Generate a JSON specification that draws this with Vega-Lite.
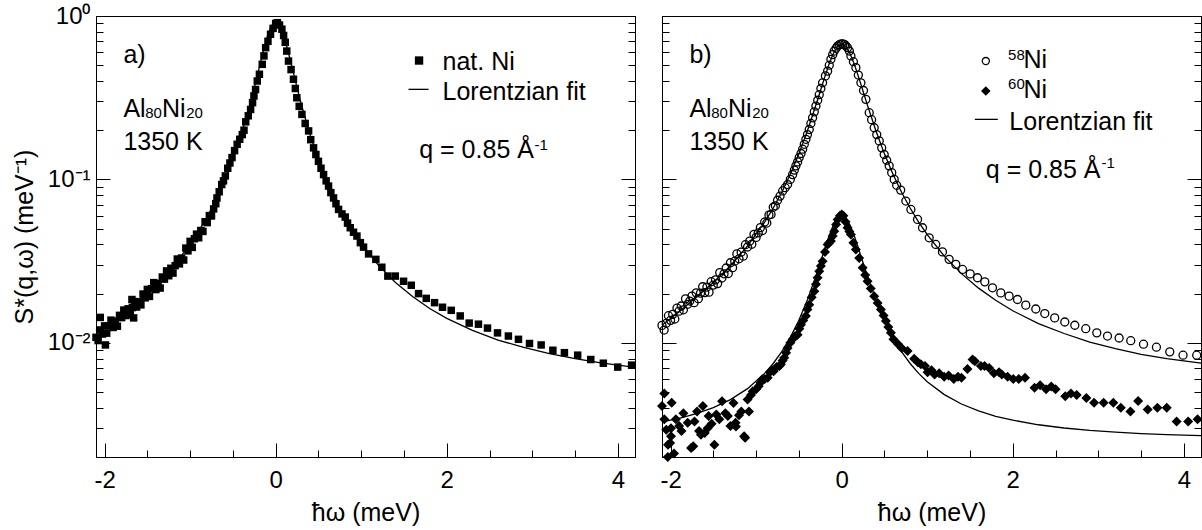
{
  "$schema": "https://vega.github.io/schema/vega-lite/v6.json",
  "padding": {"left": 11, "top": 3, "right": 0, "bottom": 0},
  "spacing": 15,
  "config": {
    "font": "Liberation Sans",
    "view": {"stroke": "black", "strokeWidth": 1},
    "axis": {"domainColor": "black", "domainWidth": 1, "tickColor": "black", "tickWidth": 1, "labelColor": "black", "titleColor": "black", "labelFont": "Liberation Sans", "titleFont": "Liberation Sans", "labelFontSize": 24, "titleFontSize": 25, "titleFontWeight": "normal", "grid": false, "labelFlush": false, "labelOverlap": false},
    "text": {"font": "Liberation Sans", "color": "black"}
  },
  "hconcat": [
    {
      "width": 539, "height": 441,
      "resolve": {"axis": {"x": "independent", "y": "independent"}},
      "layer": [
        {
          "data": {"values": [{"x":-2.1,"y":0.0118},{"x":-1.9,"y":0.0138},{"x":-1.7,"y":0.0165},{"x":-1.5,"y":0.0203},{"x":-1.3,"y":0.0258},{"x":-1.1,"y":0.0342},{"x":-1.0,"y":0.0404},{"x":-0.9,"y":0.0483},{"x":-0.8,"y":0.0591},{"x":-0.7,"y":0.0744},{"x":-0.6,"y":0.097},{"x":-0.5,"y":0.1319},{"x":-0.4,"y":0.189},{"x":-0.3,"y":0.2881},{"x":-0.25,"y":0.364},{"x":-0.2,"y":0.465},{"x":-0.15,"y":0.5938},{"x":-0.1,"y":0.741},{"x":-0.05,"y":0.8709},{"x":0,"y":0.925},{"x":0.05,"y":0.8709},{"x":0.1,"y":0.741},{"x":0.15,"y":0.5938},{"x":0.2,"y":0.465},{"x":0.25,"y":0.364},{"x":0.3,"y":0.2881},{"x":0.4,"y":0.189},{"x":0.5,"y":0.1319},{"x":0.6,"y":0.097},{"x":0.7,"y":0.0744},{"x":0.8,"y":0.0591},{"x":0.9,"y":0.0483},{"x":1.0,"y":0.0404},{"x":1.2,"y":0.0299},{"x":1.4,"y":0.0234},{"x":1.6,"y":0.0192},{"x":1.8,"y":0.0162},{"x":2.0,"y":0.0141},{"x":2.3,"y":0.0119},{"x":2.6,"y":0.0104},{"x":2.9,"y":0.00936},{"x":3.2,"y":0.00858},{"x":3.5,"y":0.008},{"x":3.8,"y":0.00754},{"x":4.2,"y":0.00708}]},
          "mark": {"type": "line", "color": "black", "strokeWidth": 1.3},
          "encoding": {
            "x": {"field": "x", "type": "quantitative", "scale": {"domain": [-2.1, 4.2], "nice": false, "zero": false},
              "axis": {"orient": "bottom", "values": [-2,0,2,4], "tickSize": -14, "labelExpr": "'' + datum.value", "labelPadding": 25, "title": "ħω (meV)", "titlePadding": 8}},
            "y": {"field": "y", "type": "quantitative", "scale": {"type": "log", "domain": [0.002, 1], "nice": false},
              "axis": {"orient": "left", "values": [0.002,0.003,0.004,0.005,0.006,0.007,0.008,0.009,0.01,0.02,0.03,0.04,0.05,0.06,0.07,0.08,0.09,0.1,0.2,0.3,0.4,0.5,0.6,0.7,0.8,0.9,1], "tickSize": {"condition": {"test": "datum.value === 1 || datum.value === 0.1 || datum.value === 0.01", "value": -14}, "value": -7}, "labelExpr": "datum.value === 1 ? '10⁰' : datum.value === 0.1 ? '10⁻¹' : datum.value === 0.01 ? '10⁻²' : ''", "labelPadding": 20, "title": "S*(q,ω) (meV⁻¹)", "titlePadding": 10}}
          }
        },
        {
          "data": {"values": [{"x":-2.1,"y":0.0108},{"x":-2.075,"y":0.01032},{"x":-2.05,"y":0.01198},{"x":-2.025,"y":0.01131},{"x":-2.0,"y":0.01269},{"x":-1.975,"y":0.01145},{"x":-1.95,"y":0.0127},{"x":-1.925,"y":0.01376},{"x":-1.9,"y":0.01241},{"x":-1.875,"y":0.0135},{"x":-1.85,"y":0.01263},{"x":-1.825,"y":0.01472},{"x":-1.8,"y":0.01426},{"x":-1.775,"y":0.01586},{"x":-1.75,"y":0.01468},{"x":-1.725,"y":0.01614},{"x":-1.7,"y":0.01493},{"x":-1.675,"y":0.01643},{"x":-1.65,"y":0.01788},{"x":-1.625,"y":0.01655},{"x":-1.6,"y":0.0178},{"x":-1.575,"y":0.01706},{"x":-1.55,"y":0.01988},{"x":-1.525,"y":0.01884},{"x":-1.5,"y":0.02122},{"x":-1.475,"y":0.01922},{"x":-1.45,"y":0.02144},{"x":-1.425,"y":0.02335},{"x":-1.4,"y":0.02117},{"x":-1.375,"y":0.02305},{"x":-1.35,"y":0.02163},{"x":-1.325,"y":0.02526},{"x":-1.3,"y":0.02452},{"x":-1.275,"y":0.02754},{"x":-1.25,"y":0.02573},{"x":-1.225,"y":0.02858},{"x":-1.2,"y":0.0267},{"x":-1.175,"y":0.02965},{"x":-1.15,"y":0.03255},{"x":-1.125,"y":0.03041},{"x":-1.1,"y":0.033},{"x":-1.075,"y":0.0321},{"x":-1.05,"y":0.03799},{"x":-1.025,"y":0.03653},{"x":-1.0,"y":0.04175},{"x":-0.975,"y":0.03835},{"x":-0.95,"y":0.04333},{"x":-0.925,"y":0.04622},{"x":-0.9,"y":0.04394},{"x":-0.875,"y":0.04866},{"x":-0.85,"y":0.04804},{"x":-0.825,"y":0.05508},{"x":-0.8,"y":0.05438},{"x":-0.775,"y":0.06004},{"x":-0.75,"y":0.05977},{"x":-0.725,"y":0.06599},{"x":-2.05,"y":0.0143},{"x":-1.99,"y":0.0097},{"x":-1.66,"y":0.0142},{"x":-1.68,"y":0.0184},{"x":-0.7,"y":0.071},{"x":-0.686,"y":0.077},{"x":-0.66,"y":0.084},{"x":-0.63,"y":0.093},{"x":-0.61,"y":0.098},{"x":-0.588,"y":0.105},{"x":-0.56,"y":0.117},{"x":-0.535,"y":0.126},{"x":-0.51,"y":0.136},{"x":-0.48,"y":0.15},{"x":-0.45,"y":0.164},{"x":-0.42,"y":0.176},{"x":-0.39,"y":0.188},{"x":-0.37,"y":0.2},{"x":-0.35,"y":0.225},{"x":-0.32,"y":0.245},{"x":-0.293,"y":0.268},{"x":-0.27,"y":0.295},{"x":-0.254,"y":0.324},{"x":-0.235,"y":0.355},{"x":-0.215,"y":0.4},{"x":-0.19,"y":0.44},{"x":-0.157,"y":0.506},{"x":-0.137,"y":0.57},{"x":-0.117,"y":0.64},{"x":-0.09,"y":0.7},{"x":-0.06,"y":0.773},{"x":-0.03,"y":0.84},{"x":0.0,"y":0.9},{"x":0.02,"y":0.91},{"x":0.045,"y":0.88},{"x":0.073,"y":0.83},{"x":0.093,"y":0.76},{"x":0.112,"y":0.69},{"x":0.13,"y":0.61},{"x":0.15,"y":0.53},{"x":0.18,"y":0.47},{"x":0.208,"y":0.41},{"x":0.23,"y":0.36},{"x":0.247,"y":0.316},{"x":0.275,"y":0.28},{"x":0.307,"y":0.25},{"x":0.345,"y":0.22},{"x":0.385,"y":0.198},{"x":0.41,"y":0.175},{"x":0.443,"y":0.156},{"x":0.47,"y":0.142},{"x":0.5,"y":0.129},{"x":0.53,"y":0.117},{"x":0.56,"y":0.107},{"x":0.59,"y":0.098},{"x":0.618,"y":0.091},{"x":0.645,"y":0.083},{"x":0.677,"y":0.077},{"x":0.705,"y":0.071},{"x":0.735,"y":0.0655},{"x":0.775,"y":0.0615},{"x":0.813,"y":0.0588},{"x":0.84,"y":0.054},{"x":0.872,"y":0.0506},{"x":0.91,"y":0.0475},{"x":0.95,"y":0.045},{"x":0.99,"y":0.041},{"x":1.027,"y":0.0385},{"x":1.086,"y":0.035},{"x":1.171,"y":0.0324},{"x":1.241,"y":0.029},{"x":1.311,"y":0.0256},{"x":1.398,"y":0.0256},{"x":1.495,"y":0.0238},{"x":1.585,"y":0.0225},{"x":1.67,"y":0.02},{"x":1.76,"y":0.0187},{"x":1.857,"y":0.0176},{"x":1.95,"y":0.0165},{"x":2.052,"y":0.0158},{"x":2.157,"y":0.0146},{"x":2.262,"y":0.0132},{"x":2.37,"y":0.013},{"x":2.476,"y":0.0123},{"x":2.593,"y":0.0115},{"x":2.72,"y":0.011},{"x":2.838,"y":0.0105},{"x":2.967,"y":0.0099},{"x":3.103,"y":0.0097},{"x":3.24,"y":0.009},{"x":3.375,"y":0.0087},{"x":3.53,"y":0.0084},{"x":3.683,"y":0.0079},{"x":3.83,"y":0.0075},{"x":3.998,"y":0.0071},{"x":4.16,"y":0.0073}]},
          "mark": {"type": "point", "shape": "square", "filled": true, "color": "black", "size": 56, "opacity": 1},
          "encoding": {
            "x": {"field": "x", "type": "quantitative", "axis": {"orient": "bottom", "values": [-1.5,-1,-0.5,0.5,1,1.5,2.5,3,3.5], "tickSize": -7, "labels": false, "title": null}},
            "y": {"field": "y", "type": "quantitative", "axis": {"orient": "right", "values": [0.002,0.003,0.004,0.005,0.006,0.007,0.008,0.009,0.01,0.02,0.03,0.04,0.05,0.06,0.07,0.08,0.09,0.1,0.2,0.3,0.4,0.5,0.6,0.7,0.8,0.9,1], "tickSize": {"condition": {"test": "datum.value === 1 || datum.value === 0.1 || datum.value === 0.01", "value": -14}, "value": -7}, "labels": false, "title": null}}
          }
        },
        {
          "data": {"values": [{"x":1.676,"y":0.534}]},
          "mark": {"type": "point", "shape": "square", "filled": true, "color": "black", "size": 70, "opacity": 1},
          "encoding": {"x": {"field": "x", "type": "quantitative", "axis": null}, "y": {"field": "y", "type": "quantitative", "axis": null}}
        },
        {
          "data": {"values": [{"x":1.553,"x2":1.787,"y":0.3557}]},
          "mark": {"type": "rule", "color": "black", "strokeWidth": 1.3},
          "encoding": {"x": {"field": "x", "type": "quantitative", "axis": null}, "x2": {"field": "x2"}, "y": {"field": "y", "type": "quantitative", "axis": null}}
        },
        {
          "data": {"values": [{"x":-1.78,"y":0.575,"t":"a)"},{"x":-1.78,"y":0.2715,"t":"Al"},{"x":-1.33,"y":0.2715,"t":"Ni"},{"x":-1.78,"y":0.1697,"t":"1350 K"},{"x":1.95,"y":0.524,"t":"nat. Ni"},{"x":1.95,"y":0.3434,"t":"Lorentzian fit"},{"x":1.678,"y":0.1508,"t":"q = 0.85 Å"}]},
          "mark": {"type": "text", "align": "left", "baseline": "middle", "fontSize": 25, "color": "black"},
          "encoding": {"x": {"field": "x", "type": "quantitative", "axis": null}, "y": {"field": "y", "type": "quantitative", "axis": null}, "text": {"field": "t"}}
        },
        {
          "data": {"values": [{"x":-1.525,"y":0.254,"t":"80"},{"x":-1.045,"y":0.254,"t":"20"},{"x":3.025,"y":0.1627,"t":"-1"}]},
          "mark": {"type": "text", "align": "left", "baseline": "middle", "fontSize": 15, "color": "black"},
          "encoding": {"x": {"field": "x", "type": "quantitative", "axis": null}, "y": {"field": "y", "type": "quantitative", "axis": null}, "text": {"field": "t"}}
        }
      ]
    },
    {
      "width": 539, "height": 441,
      "resolve": {"axis": {"x": "independent", "y": "independent"}},
      "layer": [
        {
          "data": {"values": [{"x":-2.1,"y":0.0128,"s":"a"},{"x":-1.9,"y":0.0155,"s":"a"},{"x":-1.7,"y":0.019,"s":"a"},{"x":-1.5,"y":0.0234,"s":"a"},{"x":-1.3,"y":0.0296,"s":"a"},{"x":-1.1,"y":0.0392,"s":"a"},{"x":-0.9,"y":0.0548,"s":"a"},{"x":-0.8,"y":0.0668,"s":"a"},{"x":-0.7,"y":0.0835,"s":"a"},{"x":-0.6,"y":0.1075,"s":"a"},{"x":-0.5,"y":0.1433,"s":"a"},{"x":-0.4,"y":0.1986,"s":"a"},{"x":-0.3,"y":0.286,"s":"a"},{"x":-0.25,"y":0.3466,"s":"a"},{"x":-0.2,"y":0.4198,"s":"a"},{"x":-0.15,"y":0.5027,"s":"a"},{"x":-0.1,"y":0.5857,"s":"a"},{"x":-0.05,"y":0.6502,"s":"a"},{"x":0,"y":0.675,"s":"a"},{"x":0.05,"y":0.6502,"s":"a"},{"x":0.1,"y":0.5857,"s":"a"},{"x":0.15,"y":0.5027,"s":"a"},{"x":0.2,"y":0.4198,"s":"a"},{"x":0.25,"y":0.3466,"s":"a"},{"x":0.3,"y":0.286,"s":"a"},{"x":0.4,"y":0.1986,"s":"a"},{"x":0.5,"y":0.1433,"s":"a"},{"x":0.6,"y":0.1075,"s":"a"},{"x":0.7,"y":0.0835,"s":"a"},{"x":0.8,"y":0.0668,"s":"a"},{"x":0.9,"y":0.0548,"s":"a"},{"x":1.0,"y":0.0459,"s":"a"},{"x":1.2,"y":0.0339,"s":"a"},{"x":1.4,"y":0.0265,"s":"a"},{"x":1.6,"y":0.0216,"s":"a"},{"x":1.8,"y":0.0182,"s":"a"},{"x":2.0,"y":0.0157,"s":"a"},{"x":2.3,"y":0.0131,"s":"a"},{"x":2.6,"y":0.0114,"s":"a"},{"x":2.9,"y":0.0101,"s":"a"},{"x":3.2,"y":0.0092,"s":"a"},{"x":3.5,"y":0.0085,"s":"a"},{"x":3.8,"y":0.008,"s":"a"},{"x":4.2,"y":0.0075,"s":"a"},
            {"x":-2.1,"y":0.00328,"s":"b"},{"x":-1.9,"y":0.00345,"s":"b"},{"x":-1.7,"y":0.00368,"s":"b"},{"x":-1.5,"y":0.00401,"s":"b"},{"x":-1.3,"y":0.00449,"s":"b"},{"x":-1.1,"y":0.00524,"s":"b"},{"x":-0.9,"y":0.0065,"s":"b"},{"x":-0.8,"y":0.00747,"s":"b"},{"x":-0.7,"y":0.00883,"s":"b"},{"x":-0.6,"y":0.01079,"s":"b"},{"x":-0.5,"y":0.01373,"s":"b"},{"x":-0.4,"y":0.01832,"s":"b"},{"x":-0.3,"y":0.0257,"s":"b"},{"x":-0.25,"y":0.03091,"s":"b"},{"x":-0.2,"y":0.0373,"s":"b"},{"x":-0.15,"y":0.04468,"s":"b"},{"x":-0.1,"y":0.05221,"s":"b"},{"x":-0.05,"y":0.05818,"s":"b"},{"x":0,"y":0.0605,"s":"b"},{"x":0.05,"y":0.05818,"s":"b"},{"x":0.1,"y":0.05221,"s":"b"},{"x":0.15,"y":0.04468,"s":"b"},{"x":0.2,"y":0.0373,"s":"b"},{"x":0.25,"y":0.03091,"s":"b"},{"x":0.3,"y":0.0257,"s":"b"},{"x":0.4,"y":0.01832,"s":"b"},{"x":0.5,"y":0.01373,"s":"b"},{"x":0.6,"y":0.01079,"s":"b"},{"x":0.7,"y":0.00883,"s":"b"},{"x":0.8,"y":0.00747,"s":"b"},{"x":0.9,"y":0.0065,"s":"b"},{"x":1.0,"y":0.00578,"s":"b"},{"x":1.2,"y":0.00482,"s":"b"},{"x":1.4,"y":0.00422,"s":"b"},{"x":1.6,"y":0.00383,"s":"b"},{"x":1.8,"y":0.00355,"s":"b"},{"x":2.0,"y":0.00336,"s":"b"},{"x":2.3,"y":0.00315,"s":"b"},{"x":2.6,"y":0.00301,"s":"b"},{"x":2.9,"y":0.00291,"s":"b"},{"x":3.2,"y":0.00284,"s":"b"},{"x":3.5,"y":0.00278,"s":"b"},{"x":3.8,"y":0.00274,"s":"b"},{"x":4.2,"y":0.0027,"s":"b"}]},
          "mark": {"type": "line", "color": "black", "strokeWidth": 1.3},
          "encoding": {
            "detail": {"field": "s"},
            "x": {"field": "x", "type": "quantitative", "scale": {"domain": [-2.1, 4.2], "nice": false, "zero": false},
              "axis": {"orient": "bottom", "values": [-2,0,2,4], "tickSize": -14, "labelExpr": "'' + datum.value", "labelPadding": 25, "title": "ħω (meV)", "titlePadding": 8}},
            "y": {"field": "y", "type": "quantitative", "scale": {"type": "log", "domain": [0.002, 1], "nice": false},
              "axis": {"orient": "left", "values": [0.002,0.003,0.004,0.005,0.006,0.007,0.008,0.009,0.01,0.02,0.03,0.04,0.05,0.06,0.07,0.08,0.09,0.1,0.2,0.3,0.4,0.5,0.6,0.7,0.8,0.9,1], "tickSize": {"condition": {"test": "datum.value === 1 || datum.value === 0.1 || datum.value === 0.01", "value": -14}, "value": -7}, "labels": false, "title": null}}
          }
        },
        {
          "data": {"values": [{"x":-2.1,"y":0.01278},{"x":-2.075,"y":0.01197},{"x":-2.05,"y":0.01316},{"x":-2.025,"y":0.01465},{"x":-2.0,"y":0.01372},{"x":-1.975,"y":0.01493},{"x":-1.95,"y":0.01398},{"x":-1.925,"y":0.0163},{"x":-1.9,"y":0.01562},{"x":-1.875,"y":0.0168},{"x":-1.85,"y":0.01592},{"x":-1.825,"y":0.01857},{"x":-1.8,"y":0.0172},{"x":-1.775,"y":0.01801},{"x":-1.75,"y":0.0193},{"x":-1.725,"y":0.0176},{"x":-1.7,"y":0.02021},{"x":-1.675,"y":0.01861},{"x":-1.65,"y":0.02013},{"x":-1.625,"y":0.02203},{"x":-1.6,"y":0.02028},{"x":-1.575,"y":0.02193},{"x":-1.55,"y":0.02042},{"x":-1.525,"y":0.02366},{"x":-1.5,"y":0.02254},{"x":-1.475,"y":0.02427},{"x":-1.45,"y":0.02303},{"x":-1.425,"y":0.02687},{"x":-1.4,"y":0.02492},{"x":-1.375,"y":0.02644},{"x":-1.35,"y":0.0287},{"x":-1.325,"y":0.02655},{"x":-1.3,"y":0.03089},{"x":-1.275,"y":0.02881},{"x":-1.25,"y":0.03157},{"x":-1.225,"y":0.035},{"x":-1.2,"y":0.03265},{"x":-1.175,"y":0.03584},{"x":-1.15,"y":0.03388},{"x":-1.125,"y":0.03986},{"x":-1.1,"y":0.03856},{"x":-1.075,"y":0.04189},{"x":-1.05,"y":0.04009},{"x":-1.025,"y":0.04614},{"x":-1.0,"y":0.04417},{"x":-0.975,"y":0.04703},{"x":-0.95,"y":0.05067},{"x":-0.925,"y":0.04864},{"x":-0.9,"y":0.05485},{"x":-0.875,"y":0.05407},{"x":-0.85,"y":0.06052},{"x":-0.825,"y":0.06105},{"x":-0.8,"y":0.06753},{"x":-0.775,"y":0.06894},{"x":-0.75,"y":0.07456},{"x":-0.72,"y":0.079},{"x":-0.69,"y":0.085},{"x":-0.66,"y":0.089},{"x":-0.632,"y":0.093},{"x":-0.6,"y":0.1},{"x":-0.573,"y":0.107},{"x":-0.553,"y":0.114},{"x":-0.535,"y":0.121},{"x":-0.515,"y":0.128},{"x":-0.496,"y":0.136},{"x":-0.475,"y":0.144},{"x":-0.456,"y":0.153},{"x":-0.437,"y":0.164},{"x":-0.418,"y":0.176},{"x":-0.4,"y":0.188},{"x":-0.379,"y":0.202},{"x":-0.36,"y":0.22},{"x":-0.34,"y":0.238},{"x":-0.32,"y":0.259},{"x":-0.301,"y":0.281},{"x":-0.28,"y":0.305},{"x":-0.262,"y":0.33},{"x":-0.243,"y":0.36},{"x":-0.223,"y":0.39},{"x":-0.19,"y":0.43},{"x":-0.164,"y":0.46},{"x":-0.145,"y":0.5},{"x":-0.126,"y":0.543},{"x":-0.105,"y":0.58},{"x":-0.087,"y":0.61},{"x":-0.065,"y":0.635},{"x":-0.047,"y":0.655},{"x":-0.025,"y":0.668},{"x":-0.005,"y":0.675},{"x":0.015,"y":0.675},{"x":0.035,"y":0.668},{"x":0.05,"y":0.655},{"x":0.069,"y":0.64},{"x":0.09,"y":0.61},{"x":0.108,"y":0.569},{"x":0.137,"y":0.525},{"x":0.166,"y":0.483},{"x":0.195,"y":0.435},{"x":0.225,"y":0.39},{"x":0.255,"y":0.35},{"x":0.283,"y":0.309},{"x":0.322,"y":0.256},{"x":0.35,"y":0.232},{"x":0.38,"y":0.207},{"x":0.41,"y":0.188},{"x":0.439,"y":0.172},{"x":0.468,"y":0.156},{"x":0.497,"y":0.142},{"x":0.526,"y":0.131},{"x":0.555,"y":0.121},{"x":0.585,"y":0.11},{"x":0.614,"y":0.1},{"x":0.643,"y":0.092},{"x":0.69,"y":0.086},{"x":0.75,"y":0.0737},{"x":0.809,"y":0.0655},{"x":0.887,"y":0.0569},{"x":0.945,"y":0.0506},{"x":1.023,"y":0.0439},{"x":1.1,"y":0.04},{"x":1.178,"y":0.036},{"x":1.256,"y":0.0324},{"x":1.334,"y":0.0302},{"x":1.413,"y":0.0281},{"x":1.502,"y":0.0264},{"x":1.588,"y":0.025},{"x":1.673,"y":0.0236},{"x":1.763,"y":0.0217},{"x":1.86,"y":0.0202},{"x":1.957,"y":0.0193},{"x":2.055,"y":0.0184},{"x":2.152,"y":0.017},{"x":2.269,"y":0.0161},{"x":2.374,"y":0.0151},{"x":2.49,"y":0.0142},{"x":2.608,"y":0.0134},{"x":2.725,"y":0.0128},{"x":2.853,"y":0.0122},{"x":2.982,"y":0.0115},{"x":3.107,"y":0.011},{"x":3.243,"y":0.0107},{"x":3.379,"y":0.0103},{"x":3.528,"y":0.0098},{"x":3.679,"y":0.0094},{"x":3.835,"y":0.0088},{"x":3.99,"y":0.0084},{"x":4.15,"y":0.0084}]},
          "mark": {"type": "point", "shape": "circle", "filled": false, "color": "black", "strokeWidth": 1.3, "size": 64, "opacity": 1},
          "encoding": {
            "x": {"field": "x", "type": "quantitative", "axis": {"orient": "bottom", "values": [-1.5,-1,-0.5,0.5,1,1.5,2.5,3,3.5], "tickSize": -7, "labels": false, "title": null}},
            "y": {"field": "y", "type": "quantitative", "axis": {"orient": "right", "values": [0.002,0.003,0.004,0.005,0.006,0.007,0.008,0.009,0.01,0.02,0.03,0.04,0.05,0.06,0.07,0.08,0.09,0.1,0.2,0.3,0.4,0.5,0.6,0.7,0.8,0.9,1], "tickSize": {"condition": {"test": "datum.value === 1 || datum.value === 0.1 || datum.value === 0.01", "value": -14}, "value": -7}, "labels": false, "title": null}}
          }
        },
        {
          "data": {"values": [{"x":-2.1,"y":0.0041},{"x":-2.073,"y":0.0049},{"x":-2.073,"y":0.0034},{"x":-2.05,"y":0.00294},{"x":-2.033,"y":0.002},{"x":-2.03,"y":0.00238},{"x":-2.005,"y":0.00244},{"x":-1.995,"y":0.00268},{"x":-1.995,"y":0.003},{"x":-1.987,"y":0.0043},{"x":-1.96,"y":0.0021},{"x":-1.938,"y":0.0034},{"x":-1.9,"y":0.0031},{"x":-1.872,"y":0.00288},{"x":-1.85,"y":0.0037},{"x":-1.8,"y":0.00324},{"x":-1.76,"y":0.00227},{"x":-1.735,"y":0.00233},{"x":-1.72,"y":0.0033},{"x":-1.69,"y":0.0038},{"x":-1.667,"y":0.00288},{"x":-1.645,"y":0.00274},{"x":-1.622,"y":0.0041},{"x":-1.6,"y":0.0028},{"x":-1.567,"y":0.003},{"x":-1.555,"y":0.00356},{"x":-1.52,"y":0.0032},{"x":-1.488,"y":0.00238},{"x":-1.465,"y":0.00364},{"x":-1.43,"y":0.0034},{"x":-1.398,"y":0.00439},{"x":-1.36,"y":0.0037},{"x":-1.33,"y":0.00356},{"x":-1.3,"y":0.0031},{"x":-1.264,"y":0.00428},{"x":-1.24,"y":0.00324},{"x":-1.236,"y":0.00307},{"x":-1.2,"y":0.0036},{"x":-1.173,"y":0.0038},{"x":-1.14,"y":0.00268},{"x":-1.128,"y":0.00262},{"x":-1.1,"y":0.0045},{"x":-1.083,"y":0.0038},{"x":-1.06,"y":0.0048},{"x":-1.039,"y":0.00506},{"x":-1.0,"y":0.0052},{"x":-0.97,"y":0.00542},{"x":-0.95,"y":0.0057},{"x":-0.93,"y":0.00596},{"x":-0.9,"y":0.006},{"x":-0.865,"y":0.0061},{"x":-0.84,"y":0.0066},{"x":-0.81,"y":0.0068},{"x":-0.795,"y":0.0067},{"x":-0.76,"y":0.0071},{"x":-0.727,"y":0.0072},{"x":-0.71,"y":0.0074},{"x":-0.69,"y":0.0078},{"x":-0.671,"y":0.0081},{"x":-0.65,"y":0.0087},{"x":-0.632,"y":0.0093},{"x":-0.6,"y":0.01},{"x":-0.573,"y":0.0105},{"x":-0.545,"y":0.011},{"x":-0.515,"y":0.0112},{"x":-0.495,"y":0.0122},{"x":-0.476,"y":0.0129},{"x":-0.45,"y":0.0137},{"x":-0.418,"y":0.0146},{"x":-0.4,"y":0.016},{"x":-0.379,"y":0.0171},{"x":-0.35,"y":0.019},{"x":-0.32,"y":0.0207},{"x":-0.3,"y":0.0228},{"x":-0.282,"y":0.025},{"x":-0.262,"y":0.0274},{"x":-0.243,"y":0.0295},{"x":-0.223,"y":0.0316},{"x":-0.195,"y":0.036},{"x":-0.164,"y":0.04},{"x":-0.145,"y":0.041},{"x":-0.126,"y":0.0419},{"x":-0.105,"y":0.045},{"x":-0.087,"y":0.0482},{"x":-0.065,"y":0.053},{"x":-0.047,"y":0.0569},{"x":-0.02,"y":0.06},{"x":0.0,"y":0.061},{"x":0.02,"y":0.06},{"x":0.045,"y":0.055},{"x":0.069,"y":0.0506},{"x":0.09,"y":0.048},{"x":0.108,"y":0.046},{"x":0.137,"y":0.041},{"x":0.166,"y":0.0373},{"x":0.205,"y":0.033},{"x":0.245,"y":0.0288},{"x":0.275,"y":0.026},{"x":0.303,"y":0.0238},{"x":0.34,"y":0.0215},{"x":0.38,"y":0.0193},{"x":0.42,"y":0.0175},{"x":0.458,"y":0.016},{"x":0.49,"y":0.0147},{"x":0.517,"y":0.0136},{"x":0.545,"y":0.0125},{"x":0.575,"y":0.0115},{"x":0.605,"y":0.0105},{"x":0.66,"y":0.0098},{"x":0.7,"y":0.0093},{"x":0.77,"y":0.0089},{"x":0.848,"y":0.008},{"x":0.89,"y":0.0076},{"x":0.926,"y":0.0074},{"x":0.974,"y":0.0072},{"x":1.004,"y":0.0066},{"x":1.05,"y":0.0068},{"x":1.086,"y":0.0064},{"x":1.14,"y":0.0065},{"x":1.198,"y":0.0062},{"x":1.25,"y":0.0063},{"x":1.31,"y":0.006},{"x":1.36,"y":0.0062},{"x":1.4,"y":0.0061},{"x":1.47,"y":0.0069},{"x":1.53,"y":0.0079},{"x":1.557,"y":0.0077},{"x":1.627,"y":0.0072},{"x":1.67,"y":0.0072},{"x":1.724,"y":0.007},{"x":1.78,"y":0.0065},{"x":1.84,"y":0.0066},{"x":1.872,"y":0.0064},{"x":1.94,"y":0.0062},{"x":2.006,"y":0.006},{"x":2.07,"y":0.006},{"x":2.143,"y":0.0061},{"x":2.254,"y":0.0053},{"x":2.32,"y":0.0055},{"x":2.389,"y":0.0052},{"x":2.45,"y":0.0054},{"x":2.5,"y":0.0052},{"x":2.613,"y":0.0047},{"x":2.68,"y":0.0049},{"x":2.747,"y":0.0048},{"x":2.86,"y":0.0046},{"x":2.95,"y":0.0043},{"x":3.062,"y":0.0043},{"x":3.175,"y":0.0043},{"x":3.263,"y":0.004},{"x":3.375,"y":0.0038},{"x":3.465,"y":0.0044},{"x":3.577,"y":0.0039},{"x":3.69,"y":0.004},{"x":3.8,"y":0.004},{"x":3.915,"y":0.0033},{"x":4.05,"y":0.0033},{"x":4.16,"y":0.0034}]},
          "mark": {"type": "point", "shape": "diamond", "filled": true, "color": "black", "size": 100, "opacity": 1},
          "encoding": {"x": {"field": "x", "type": "quantitative", "axis": null}, "y": {"field": "y", "type": "quantitative", "axis": null}}
        },
        {
          "data": {"values": [{"x":1.685,"y":0.53}]},
          "mark": {"type": "point", "shape": "circle", "filled": false, "color": "black", "strokeWidth": 1.3, "size": 50, "opacity": 1},
          "encoding": {"x": {"field": "x", "type": "quantitative", "axis": null}, "y": {"field": "y", "type": "quantitative", "axis": null}}
        },
        {
          "data": {"values": [{"x":1.685,"y":0.347}]},
          "mark": {"type": "point", "shape": "diamond", "filled": true, "color": "black", "size": 90, "opacity": 1},
          "encoding": {"x": {"field": "x", "type": "quantitative", "axis": null}, "y": {"field": "y", "type": "quantitative", "axis": null}}
        },
        {
          "data": {"values": [{"x":1.5565,"x2":1.825,"y":0.233}]},
          "mark": {"type": "rule", "color": "black", "strokeWidth": 1.3},
          "encoding": {"x": {"field": "x", "type": "quantitative", "axis": null}, "x2": {"field": "x2"}, "y": {"field": "y", "type": "quantitative", "axis": null}}
        },
        {
          "data": {"values": [{"x":-1.78,"y":0.575,"t":"b)"},{"x":-1.78,"y":0.2715,"t":"Al"},{"x":-1.33,"y":0.2715,"t":"Ni"},{"x":-1.78,"y":0.1697,"t":"1350 K"},{"x":2.125,"y":0.5362,"t":"Ni"},{"x":2.125,"y":0.3512,"t":"Ni"},{"x":1.96,"y":0.2249,"t":"Lorentzian fit"},{"x":1.685,"y":0.1137,"t":"q = 0.85 Å"}]},
          "mark": {"type": "text", "align": "left", "baseline": "middle", "fontSize": 25, "color": "black"},
          "encoding": {"x": {"field": "x", "type": "quantitative", "axis": null}, "y": {"field": "y", "type": "quantitative", "axis": null}, "text": {"field": "t"}}
        },
        {
          "data": {"values": [{"x":-1.525,"y":0.254,"t":"80"},{"x":-1.045,"y":0.254,"t":"20"},{"x":1.945,"y":0.5785,"t":"58"},{"x":1.945,"y":0.3844,"t":"60"},{"x":3.037,"y":0.1255,"t":"-1"}]},
          "mark": {"type": "text", "align": "left", "baseline": "middle", "fontSize": 15, "color": "black"},
          "encoding": {"x": {"field": "x", "type": "quantitative", "axis": null}, "y": {"field": "y", "type": "quantitative", "axis": null}, "text": {"field": "t"}}
        }
      ]
    }
  ]
}
